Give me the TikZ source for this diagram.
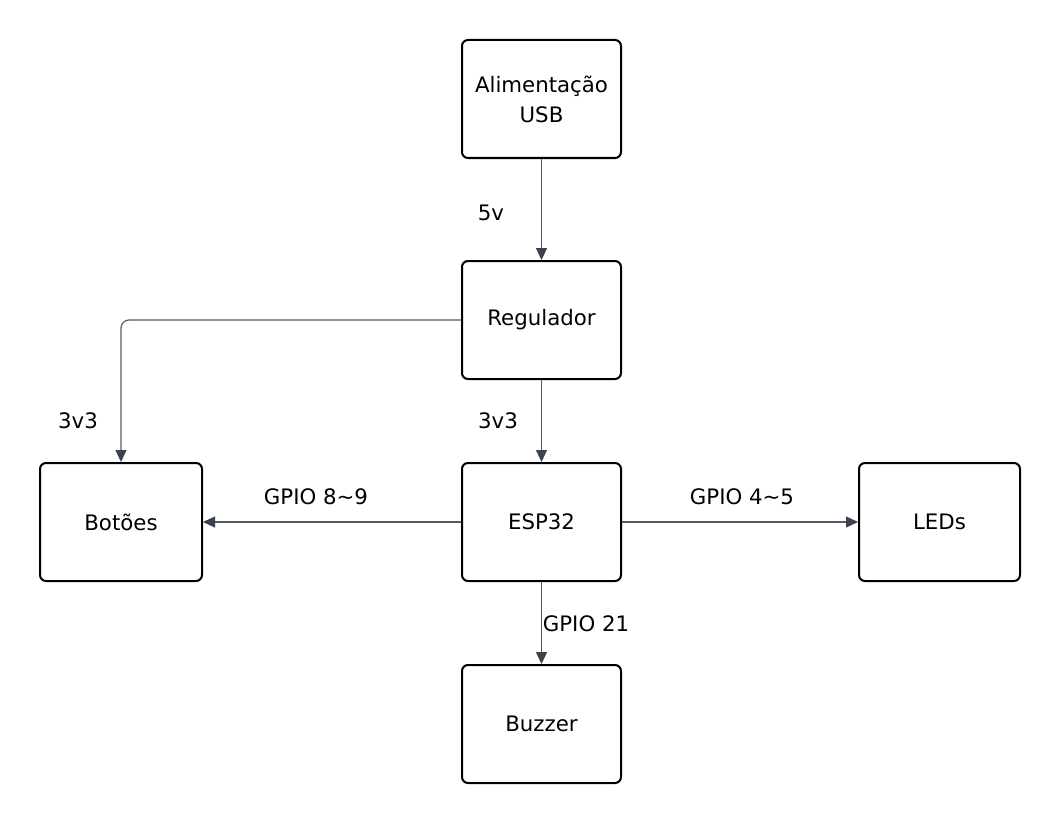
\documentclass[tikz,border=0pt]{standalone}
\usepackage{fontspec}
\setmainfont{DejaVu Sans}
\usetikzlibrary{arrows.meta}
\definecolor{linegray}{HTML}{555B63}
\definecolor{tipgray}{HTML}{3B4350}
\tikzset{
  blk/.style={draw=black, line width=2pt, rounded corners=6pt, minimum width=159pt, minimum height=118pt, inner sep=0pt, align=center, font=\fontsize{21.3}{30}\selectfont},
  conn/.style={draw=linegray, line width=1.2pt, -{Triangle[length=12pt,width=11pt,fill=tipgray,color=tipgray]}},
  lbl/.style={font=\fontsize{21.3}{24}\selectfont, inner sep=0pt}
}
\begin{document}
\begin{tikzpicture}[x=1pt,y=-1pt]
\useasboundingbox (0,0) rectangle (1060,824);
\node[blk] (usb) at (541.5,99) {Alimentação\\USB};
\node[blk] (reg) at (541.5,320) {Regulador};
\node[blk] (esp) at (541.5,522) {ESP32};
\node[blk, minimum width=162pt] (bot) at (121,522) {Botões};
\node[blk, minimum width=161pt] (led) at (939.5,522) {LEDs};
\node[blk] (buz) at (541.5,724) {Buzzer};
\draw[conn] (usb.south) -- (reg.north);
\draw[conn, rounded corners=8pt] (reg.west) -| (bot.north);
\draw[conn] (reg.south) -- (esp.north);
\draw[conn] (esp.west) -- (bot.east);
\draw[conn] (esp.east) -- (led.west);
\draw[conn] (esp.south) -- (buz.north);
\node[lbl] (l5v) at (491,213) {5v};
\node[lbl] (l3a) at (78,421) {3v3};
\node[lbl] (l3b) at (498,421) {3v3};
\node[lbl] (lg1) at (316,497) {GPIO 8\textasciitilde 9};
\node[lbl] (lg2) at (742,497) {GPIO 4\textasciitilde 5};
\node[lbl] (lg3) at (586,624) {GPIO 21};
\end{tikzpicture}
\end{document}
